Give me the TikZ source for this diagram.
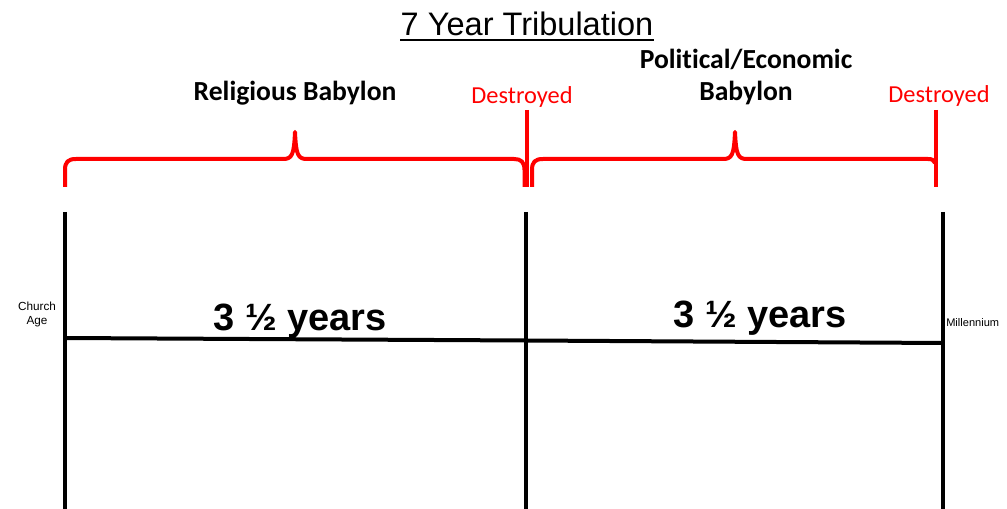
\documentclass[tikz,border=0pt]{standalone}
\usepackage{fontspec}
\setmainfont{Liberation Sans}
\newfontfamily\calibri[Ligatures={NoCommon,NoContextual}]{Carlito}
\definecolor{bracered}{RGB}{255,0,0}
\begin{document}
\begin{tikzpicture}[x=0.75pt,y=-0.75pt,
  blk/.style={line width=3pt,black},
  brc/.style={line width=3pt,bracered,line join=round},
  head/.style={inner sep=0pt,anchor=base,font=\calibri\bfseries\fontsize{20.7}{24.5}\selectfont,align=center},
  dest/.style={inner sep=0pt,anchor=base,text=bracered,font=\calibri\fontsize{18.3}{22}\selectfont},
  yrs/.style={inner sep=0pt,anchor=base,font=\bfseries\fontsize{28.5}{34}\selectfont},
  small/.style={inner sep=0pt,anchor=base,font=\fontsize{8.8}{11.2}\selectfont,align=center}]
\useasboundingbox[fill=white] (0,0) rectangle (1007,509);
% title
\node[inner sep=0pt,anchor=base,font=\fontsize{24.4}{29}\selectfont] (title) at (527,36) {7 Year Tribulation};
\draw[line width=1pt] ([yshift=-3pt]title.base west) -- ([yshift=-3pt]title.base east);
% headings
\node[head] (rel) at (295,101) {Religious Babylon};
\node[dest] (d1) at (522,104) {Destroyed};
\node[head] (pol) at (746,101) {Political/Economic\\Babylon};
\node[dest] (d2) at (939,103) {Destroyed};
% braces
\draw[brc] (65,187) -- (65,170) .. controls (65,162) and (68,159) .. (76,159)
  -- (283,159) .. controls (292,159) and (294,155) .. (295,132)
  .. controls (296,155) and (298,159) .. (307,159)
  -- (514,159) .. controls (521,159) and (524.5,162) .. (524.5,170) -- (524.5,187);
\draw[brc] (527,110) -- (527,187);
\draw[brc] (532,187) -- (532,170) .. controls (532,162) and (535,159) .. (543,159)
  -- (723,159) .. controls (732,159) and (734,155) .. (735,132)
  .. controls (736,155) and (738,159) .. (747,159)
  -- (928,159) .. controls (932,159) and (934,160) .. (935,163);
\draw[brc] (936,110) -- (936,187);
% timeline
\coordinate (l1) at (64.5,212);
\coordinate (l2) at (64.5,509);
\coordinate (m1) at (526,212);
\coordinate (m2) at (526,509);
\coordinate (r1) at (943,212);
\coordinate (r2) at (943,509);
\coordinate (h1) at (64.5,338);
\coordinate (h2) at (526,340.5);
\coordinate (h3) at (943,343);
\draw[blk] (l1) -- (l2);
\draw[blk] (m1) -- (m2);
\draw[blk] (r1) -- (r2);
\draw[blk] (h1) -- (h2) -- (h3);
\node[yrs] (y1) at (300,331) {3 ½ years};
\node[yrs] (y2) at (760,328) {3 ½ years};
\node[small] (ch) at (37,325) {Church\\Age};
\node[small,anchor=base west,font=\fontsize{8.3}{10}\selectfont] (mil) at (946,327) {Millennium};
\end{tikzpicture}
\end{document}
